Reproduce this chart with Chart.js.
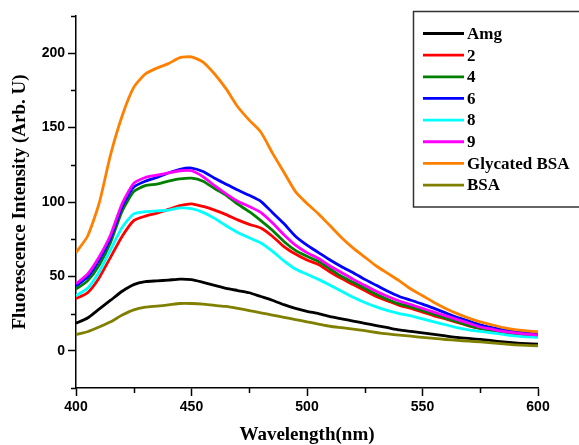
<!DOCTYPE html>
<html>
<head>
<meta charset="utf-8">
<script src="https://cdn.jsdelivr.net/npm/chart.js@4.4.1/dist/chart.umd.min.js"></script>
<style>
  html, body { margin: 0; padding: 0; background: #ffffff; }
  #wrap { position: relative; width: 579px; height: 445px; }
</style>
</head>
<body>
<div id="wrap"><canvas id="c"></canvas></div>
<script>
// ---- data ----
const wavelengths = [400,405,410,415,420,425,430,435,440,445,450,455,460,465,470,475,480,485,490,495,500,505,510,515,520,525,530,535,540,545,550,555,560,565,570,575,580,585,590,595,600];
const amg      = [18.5,22,28,34,40,44.5,46.5,47,47.5,48.2,47.8,46,44,42,40.5,39,36.5,34,31,28.5,26.5,25,23,21.5,20,18.5,17,15.5,14,13,12,11,10,9,8.3,7.7,6.8,6,5.3,4.8,4.5];
const comp2    = [35,39,49,63,77,87.5,90.5,92.5,95,97.5,98.8,97,94.5,91.5,88,85,82.5,77,70,65,61,58,53,48.5,44.5,40.5,36.5,33.5,30.5,28.5,26,23.5,21.5,19,16.8,15,13.6,12.4,11.4,10.6,10];
const comp4    = [41.5,47,57.5,73,94,107,111,112,114,115.5,116,114,109,104.5,98.5,93.5,87.5,81,73.5,67.5,63.5,60,55,50,46,42,38,34.5,31.5,29.5,27,24.5,22,19.5,17,15,13.8,12.6,11.6,10.8,10.2];
const comp6    = [43.5,49.5,61,76,97,110,114,116.5,119.5,122,122.8,120.5,116,112,108,104.5,100.5,93,85.5,77,71,66,61,56.5,52.5,48,44,40,36.5,34,31.4,28.5,25.5,22.5,20,17.5,15.5,14,12.8,11.8,11.2];
const comp8    = [37,42,53,68,83,92,93.5,94,94.5,96,95.5,93,89,84,79.5,76,72.5,67,60.5,55,51.5,48,44,40,36,32.5,29.5,27,25,23.5,21.5,19.5,17.5,15.5,14,13,12,11,10,9.4,9];
const comp9    = [45,51.5,63,78,99,112.5,116.5,118,119.5,121,121,117,111,105.5,100.5,97,93,86,78,71,66,62,57,52.5,48,44,40,36.5,33.5,31,28.5,26,23.5,21,18.5,16,14.5,13,12,11.2,10.6];
const glycated = [66,77,99,132,158,177,186,190,193,197,197.5,194,186,176,164,155,147,133,120,107,99,92,84,76,69,63,57,52,47,41.5,37,32.5,28.5,25,22,19.5,17.5,15.5,14.2,13.4,12.8];
const bsa      = [11,12.8,16,19.5,24,27.5,29.3,30,30.8,31.8,31.8,31.4,30.5,29.8,28.5,27,25.5,24,22.5,21,19.5,18,16.5,15.5,14.5,13.5,12.3,11.3,10.5,9.8,9,8.3,7.6,7,6.5,6,5.3,4.6,4,3.6,3.4];

const seriesNames = ["Amg","2","4","6","8","9","Glycated BSA","BSA"];
const seriesValues = [amg, comp2, comp4, comp6, comp8, comp9, glycated, bsa];
const seriesColors = ["#000000","#ff0000","#008000","#0000ff","#00ffff","#ff00ff","#ff8000","#808000"];

const xMajorTicks = [400,450,500,550,600];
const xMinorTicks = [425,475,525,575];
const yMajorTicks = [0,50,100,150,200];
const yMinorTicks = [-25,25,75,125,175,225];

const xTitle = "Wavelength(nm)";
const yTitle = "Fluorescence Intensity (Arb. U)";

// ---- chart ----
const datasets = seriesNames.map((name, i) => ({
  label: name,
  data: wavelengths.map((w, j) => ({ x: w, y: seriesValues[i][j] })),
  borderColor: seriesColors[i],
  backgroundColor: seriesColors[i],
  borderWidth: 2.8,
  pointRadius: 0,
  tension: 0.2,
  fill: false,
  order: -i
}));

const minorTicksPlugin = {
  id: 'minorTicks',
  afterDraw(chart) {
    const ctx = chart.ctx;
    const xs = chart.scales.x, ys = chart.scales.y;
    const area = chart.chartArea;
    ctx.save();
    ctx.strokeStyle = '#000';
    ctx.lineWidth = 1.5;
    ctx.beginPath();
    xMinorTicks.forEach(v => {
      const px = Math.round(xs.getPixelForValue(v)) + 0.5;
      ctx.moveTo(px, area.bottom);
      ctx.lineTo(px, area.bottom + 5);
    });
    yMinorTicks.forEach(v => {
      if (v < ys.min || v > ys.max) return;
      const py = Math.round(ys.getPixelForValue(v)) + 0.5;
      ctx.moveTo(area.left, py);
      ctx.lineTo(area.left - 5, py);
    });
    ctx.stroke();
    ctx.restore();
  }
};

const boxLegendPlugin = {
  id: 'boxLegend',
  afterDraw(chart) {
    const ctx = chart.ctx;
    const left = 413.5, top = 11.5, right = 580, bottom = 207;
    ctx.save();
    ctx.fillStyle = '#ffffff';
    ctx.fillRect(left, top, right - left, bottom - top);
    ctx.strokeStyle = '#333333';
    ctx.lineWidth = 1.5;
    ctx.strokeRect(left, top, right - left, bottom - top);
    ctx.font = 'bold 17px "Liberation Serif", "Times New Roman", serif';
    ctx.textBaseline = 'middle';
    ctx.textAlign = 'left';
    chart.data.datasets.forEach((ds, i) => {
      const y = 33.5 + i * 21.65;
      ctx.strokeStyle = ds.borderColor;
      ctx.lineWidth = 2.8;
      ctx.beginPath();
      ctx.moveTo(423, y);
      ctx.lineTo(464, y);
      ctx.stroke();
      ctx.fillStyle = '#000';
      ctx.fillText(ds.label, 467, y + 1);
    });
    ctx.restore();
  }
};

new Chart(document.getElementById('c'), {
  type: 'line',
  data: { datasets },
  options: {
    responsive: true,
    maintainAspectRatio: false,
    animation: false,
    events: [],
    layout: { padding: { top: 16, right: 41, left: 0, bottom: 0 } },
    plugins: { legend: { display: false }, tooltip: { enabled: false } },
    scales: {
      x: {
        type: 'linear',
        min: 400, max: 600,
        afterBuildTicks: s => { s.ticks = xMajorTicks.map(v => ({ value: v })); },
        afterFit: s => { s.height = 57; },
        grid: { display: true, drawOnChartArea: false, drawTicks: true, tickLength: 8, tickWidth: 1.5, tickColor: '#000' },
        border: { display: true, color: '#000', width: 1.5 },
        ticks: { color: '#000', padding: 3, maxRotation: 0, font: { family: '"Liberation Sans", Arial, sans-serif', weight: 'bold', size: 14 } },
        title: { display: true, text: xTitle, color: '#000', padding: { top: 0, bottom: 0 }, font: { family: '"Liberation Serif", "Times New Roman", serif', weight: 'bold', size: 19, lineHeight: 1 } }
      },
      y: {
        type: 'linear',
        min: -25, max: 225,
        afterBuildTicks: s => { s.ticks = yMajorTicks.map(v => ({ value: v })); },
        afterFit: s => { s.width = 76; },
        grid: { display: true, drawOnChartArea: false, drawTicks: true, tickLength: 8, tickWidth: 1.5, tickColor: '#000' },
        border: { display: true, color: '#000', width: 1.5 },
        ticks: { color: '#000', padding: 3, font: { family: '"Liberation Sans", Arial, sans-serif', weight: 'bold', size: 14 } },
        title: { display: true, text: yTitle, color: '#000', padding: { top: 11, bottom: 0 }, font: { family: '"Liberation Serif", "Times New Roman", serif', weight: 'bold', size: 19, lineHeight: 1 } }
      }
    }
  },
  plugins: [minorTicksPlugin, boxLegendPlugin]
});
</script>
</body>
</html>
